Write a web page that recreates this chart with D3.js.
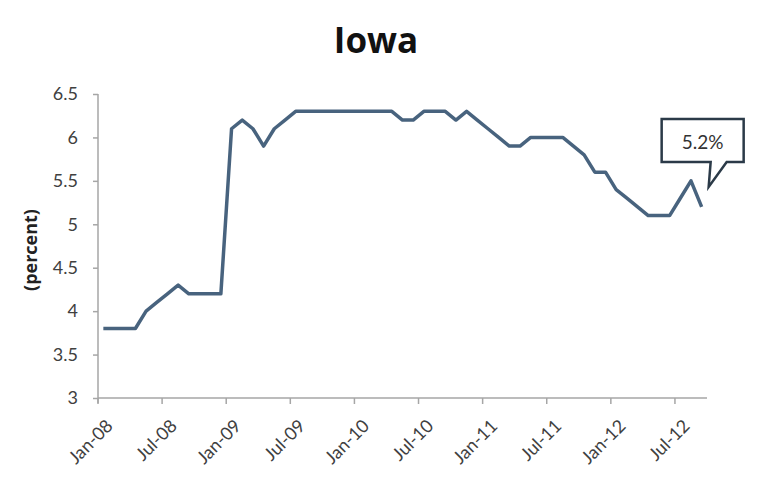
<!DOCTYPE html>
<meta charset="utf-8">
<head>
  <style>
  body { margin: 0; background: #fff; }
  .axis path, .axis line { stroke: #a6a6a6; stroke-width: 1.5px; }
  .axis text { font-family: Lato, "Open Sans", sans-serif; fill: #404040; }
  </style>
</head>
<body>
<svg width="760" height="488"></svg>
<script src="https://d3js.org/d3.v7.min.js"></script>
<script>

// monthly rate, Jan-08 .. Sep-12
var values = [
  3.8, 3.8, 3.8, 3.8, 4.0, 4.1, 4.2, 4.3, 4.2, 4.2, 4.2, 4.2,   // 2008
  6.1, 6.2, 6.1, 5.9, 6.1, 6.2, 6.3, 6.3, 6.3, 6.3, 6.3, 6.3,   // 2009
  6.3, 6.3, 6.3, 6.3, 6.2, 6.2, 6.3, 6.3, 6.3, 6.2, 6.3, 6.2,   // 2010
  6.1, 6.0, 5.9, 5.9, 6.0, 6.0, 6.0, 6.0, 5.9, 5.8, 5.6, 5.6,   // 2011
  5.4, 5.3, 5.2, 5.1, 5.1, 5.1, 5.3, 5.5, 5.2                   // 2012
];
var tickLabels = ["Jan-08", "Jul-08", "Jan-09", "Jul-09", "Jan-10", "Jul-10",
                  "Jan-11", "Jul-11", "Jan-12", "Jul-12"];
var yTicks = [3, 3.5, 4, 4.5, 5, 5.5, 6, 6.5];
var title = "Iowa";
var yLabel = "(percent)";

var svg = d3.select("svg");
var margin = {left: 98, right: 53, top: 94, bottom: 90};
var width = +svg.attr("width"), height = +svg.attr("height");

var months = values.map(function(d, i) { return i; });
var parse = d3.timeParse("%b-%y");
var startDate = parse(tickLabels[0]);
var monthOf = function(lbl) {
  var d = parse(lbl);
  return (d.getFullYear() - startDate.getFullYear()) * 12 + d.getMonth() - startDate.getMonth();
};

var x = d3.scaleBand()
    .domain(months)
    .range([margin.left, width - margin.right])
    .padding(0);

var y = d3.scaleLinear()
    .domain([3, 6.5])
    .range([height - margin.bottom, margin.top]);

// title
svg.append("text")
    .attr("x", 376)
    .attr("y", 53)
    .attr("text-anchor", "middle")
    .style("font-family", "'Open Sans', sans-serif")
    .style("font-weight", "bold")
    .style("font-size", "35px")
    .style("fill", "#111")
    .text(title);

// y axis
var yAxis = svg.append("g")
    .attr("class", "axis")
    .attr("transform", "translate(" + margin.left + ",0)")
    .call(d3.axisLeft(y).tickValues(yTicks).tickSize(5).tickPadding(15)
      .tickFormat(function(d) { return d3.format("")(d); }));
yAxis.select(".domain").attr("d", "M0," + (y(6.5)) + "V" + (y(3) + 5));
yAxis.selectAll("text").style("font-size", "18px");

// x axis
var xAxis = svg.append("g")
    .attr("class", "axis")
    .attr("transform", "translate(0," + y(3) + ")");
xAxis.append("line")
    .attr("x1", margin.left).attr("x2", width - margin.right)
    .attr("y1", 0).attr("y2", 0);
var xt = xAxis.selectAll(".xtick")
    .data(tickLabels)
  .enter().append("g")
    .attr("class", "xtick")
    .attr("transform", function(d) { return "translate(" + x(monthOf(d)) + ",0)"; });
xt.append("line").attr("y1", 0).attr("y2", 6);
xt.append("text")
    .attr("text-anchor", "end")
    .attr("transform", "translate(16,29) rotate(-45)")
    .style("font-size", "18px")
    .text(function(d) { return d; });

// y label
svg.append("text")
    .attr("transform", "translate(37,250) rotate(-90)")
    .attr("text-anchor", "middle")
    .style("font-family", "'Open Sans', sans-serif")
    .style("font-weight", "bold")
    .style("font-size", "18px")
    .style("fill", "#222")
    .text(yLabel);

// line
var line = d3.line()
    .x(function(d, i) { return x(i) + x.bandwidth() / 2; })
    .y(function(d) { return y(d); });

svg.append("path")
    .datum(values)
    .attr("fill", "none")
    .attr("stroke", "#48637e")
    .attr("stroke-width", 3.5)
    .attr("stroke-linejoin", "round")
    .attr("d", line);

// callout with last value
var last = values.length - 1;
var px = x(last) + x.bandwidth() / 2, py = y(values[last]);
var bx0 = px - 40, bx1 = px + 42, by0 = py - 88, by1 = py - 45;
var callout = svg.append("g");
callout.append("path")
    .attr("d", "M" + bx0 + "," + by0 + "H" + bx1 + "V" + by1 +
      "H" + (px + 25) + "L" + (px + 7) + "," + (py - 20) +
      "L" + (px + 9) + "," + by1 + "H" + bx0 + "Z")
    .attr("fill", "#fff")
    .attr("stroke", "#2b3a48")
    .attr("stroke-width", 2.5);
callout.append("text")
    .attr("x", (bx0 + bx1) / 2)
    .attr("y", by0 + 30)
    .attr("text-anchor", "middle")
    .style("font-family", "Lato, 'Open Sans', sans-serif")
    .style("font-size", "19px")
    .style("fill", "#333")
    .text(d3.format(".1f")(values[last]) + "%");

</script>
